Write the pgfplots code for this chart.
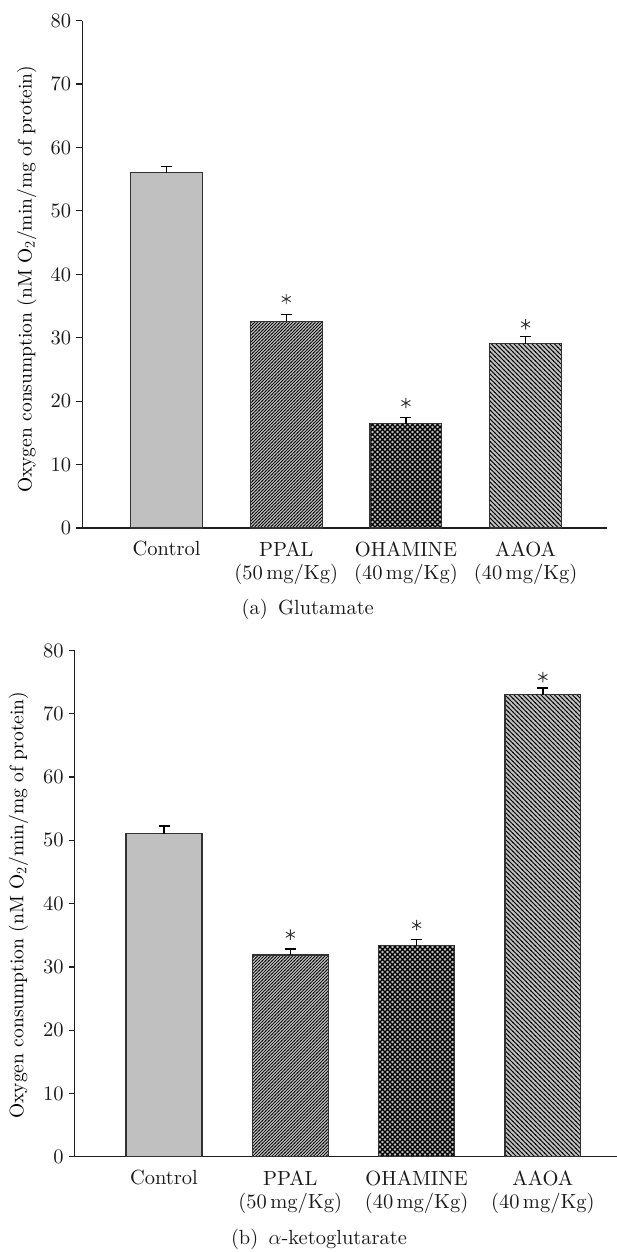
\documentclass[border=0pt]{standalone}
\usepackage{fontspec}
\setmainfont{lmroman10-regular}[Extension=.otf, BoldFont=lmroman10-bold, ItalicFont=lmroman10-italic, BoldItalicFont=lmroman10-bolditalic]
\usepackage{pgfplots}
\pgfplotsset{compat=1.18}
\usetikzlibrary{patterns}
\definecolor{barfill}{RGB}{192,192,192}
\definecolor{bardraw}{RGB}{50,50,50}
\definecolor{axcol}{RGB}{30,30,30}

\pgfdeclarepatternformonly{nelthick}{\pgfqpoint{-1pt}{-1pt}}{\pgfqpoint{4.2pt}{4.2pt}}{\pgfqpoint{3.2pt}{3.2pt}}{%
  \pgfsetlinewidth{0.7pt}%
  \pgfpathmoveto{\pgfqpoint{-0.5pt}{-0.5pt}}%
  \pgfpathlineto{\pgfqpoint{3.7pt}{3.7pt}}%
  \pgfusepath{stroke}}
\pgfdeclarepatternformonly{nwlthick}{\pgfqpoint{-1pt}{-1pt}}{\pgfqpoint{5.5pt}{5.5pt}}{\pgfqpoint{4.5pt}{4.5pt}}{%
  \pgfsetlinewidth{1.0pt}%
  \pgfpathmoveto{\pgfqpoint{-0.5pt}{5pt}}%
  \pgfpathlineto{\pgfqpoint{5pt}{-0.5pt}}%
  \pgfusepath{stroke}}
\pgfdeclarepatternformonly{diamondx}{\pgfqpoint{-1pt}{-1pt}}{\pgfqpoint{6pt}{6pt}}{\pgfqpoint{5pt}{5pt}}{%
  \pgfsetlinewidth{1.2pt}%
  \pgfpathmoveto{\pgfqpoint{-0.5pt}{-0.5pt}}%
  \pgfpathlineto{\pgfqpoint{5.5pt}{5.5pt}}%
  \pgfpathmoveto{\pgfqpoint{-0.5pt}{5.5pt}}%
  \pgfpathlineto{\pgfqpoint{5.5pt}{-0.5pt}}%
  \pgfusepath{stroke}}

\pgfplotsset{
  myaxis/.style={
    scale only axis, anchor=south west,
    axis x line=bottom, axis y line=left,
    axis line style={-, line width=1.3pt, axcol},
    ymin=0, ymax=80, ytick={0,10,...,80},
    enlargelimits=false,
    tick align=outside, major tick length=6pt,
    ytick style={line width=1.2pt, axcol},
    xtick={0,1,2,3}, xtick style={draw=none},
    xticklabels={Control, {PPAL\\(50\,mg/Kg)}, {OHAMINE\\(40\,mg/Kg)}, {AAOA\\(40\,mg/Kg)}},
    xticklabel style={align=center, yshift=-0.5pt, text=black!90, font=\fontsize{20.5}{23.5}\selectfont},
    yticklabel style={xshift=2pt, text=black!90},
    /pgf/number format/assume math mode=true,
    clip=false,
    ylabel={Oxygen consumption (nM O$_2$/min/mg of protein)},
  },
  mybar/.style={ybar, bar width=0.6, bar shift=0pt, draw=bardraw, line width=1.3pt,
    error bars/y dir=plus, error bars/y explicit,
    error bars/error bar style={line width=1.2pt, black},
    error bars/error mark options={rotate=90, line width=1.3pt, mark size=5.5pt, black}},
  mystar/.style={only marks, mark=asterisk, mark size=5.2pt, mark options={line width=0.9pt, black!80}},
}

\begin{document}
\fontsize{20.5}{24}\selectfont
\begin{tikzpicture}
\useasboundingbox (0,0) rectangle (616pt,1252pt);

% ---------- panel (a) ----------
\begin{axis}[myaxis,
  at={(82.2pt,724pt)}, width=524.8pt, height=507.4pt,
  xmin=-0.705, xmax=3.68,
  every axis y label/.style={at={(axis description cs:-0.1058,0.49)}, rotate=90, anchor=center, font=\fontsize{19.5}{23}\selectfont},
]
\addplot[mybar, fill=barfill] coordinates {(0,56.0) +- (0,1.0)};
\addplot[mybar, preaction={fill=barfill}, pattern=nelthick] coordinates {(1,32.6) +- (0,1.1)};
\addplot[mybar, preaction={fill=barfill}, pattern=diamondx] coordinates {(2,16.45) +- (0,0.95)};
\addplot[mybar, preaction={fill=barfill}, pattern=nwlthick] coordinates {(3,29.05) +- (0,1.1)};
\addplot[mystar] coordinates {(1,36.1) (2,19.7) (3,32.1)};
\end{axis}

% ---------- panel (b) ----------
\begin{axis}[myaxis,
  at={(74.6pt,95.2pt)}, width=556.7pt, height=506.3pt,
  xmin=-0.708, xmax=3.7,
  every axis y label/.style={at={(axis description cs:-0.1008,0.497)}, rotate=90, anchor=center, font=\fontsize{19.5}{23}\selectfont},
]
\addplot[mybar, fill=barfill] coordinates {(0,51.05) +- (0,1.2)};
\addplot[mybar, preaction={fill=barfill}, pattern=nelthick] coordinates {(1,31.9) +- (0,0.95)};
\addplot[mybar, preaction={fill=barfill}, pattern=diamondx] coordinates {(2,33.35) +- (0,0.95)};
\addplot[mybar, preaction={fill=barfill}, pattern=nwlthick] coordinates {(3,73.0) +- (0,1.05)};
\addplot[mystar] coordinates {(1,35.1) (2,36.6) (3,75.8)};
\end{axis}

\node[text=black!90] at (307.7pt,643pt) {(a)\enspace Glutamate};
\node[text=black!90] at (319pt,13pt) {(b)\enspace $\alpha$-ketoglutarate};
\end{tikzpicture}
\end{document}
